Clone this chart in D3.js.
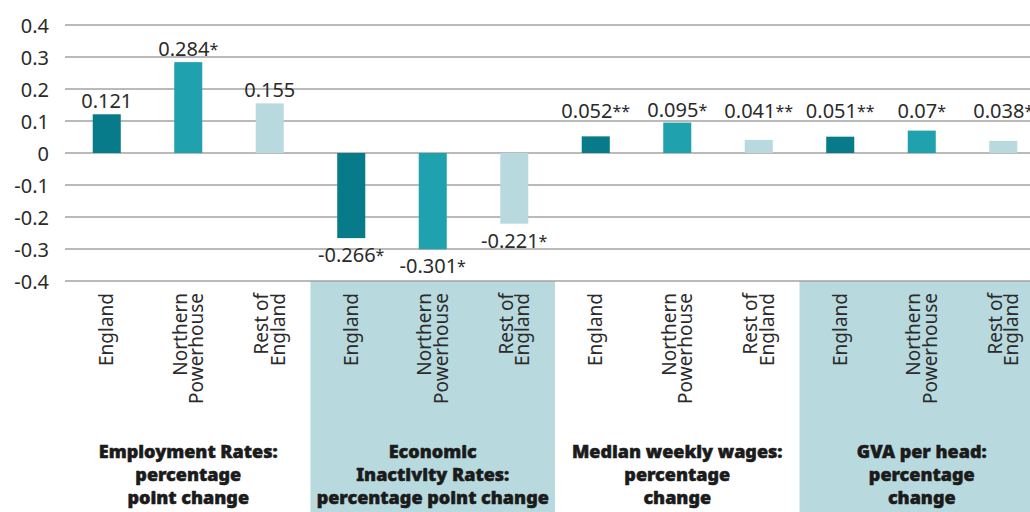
<!DOCTYPE html>
<html>
<head>
<meta charset="utf-8">
<script src="https://cdn.jsdelivr.net/npm/d3@7"></script>
<style>
  body { margin: 0; background: #fff; }
  svg { display: block; font-family: "Noto Sans", Lato, sans-serif; }
</style>
</head>
<body>
<div class="vizHolder"></div>
<script>
var width = 1030,
    height = 512;

// groups along the x axis
var groupTitles = [
  ["Employment Rates:", "percentage", "point change"],
  ["Economic", "Inactivity Rates:", "percentage point change"],
  ["Median weekly wages:", "percentage", "change"],
  ["GVA per head:", "percentage", "change"]
];

// areas inside each group
var areaLines = [["England"], ["Northern", "Powerhouse"], ["Rest of", "England"]];

// values per group, in area order
var employment = [0.121, 0.284, 0.155];
var inactivity = [-0.266, -0.301, -0.221];
var wages = [0.052, 0.095, 0.041];
var gva = [0.051, 0.07, 0.038];

// significance stars
var employmentStars = ["", "*", ""];
var inactivityStars = ["*", "*", "*"];
var wagesStars = ["**", "*", "**"];
var gvaStars = ["**", "*", "*"];

var yTicks = [-0.4, -0.3, -0.2, -0.1, 0, 0.1, 0.2, 0.3, 0.4];

var areaColors = ["#077b8a", "#20a2ae", "#b8dadf"];
var shade = "#b8dadf";

var allValues = [employment, inactivity, wages, gva];
var allStars = [employmentStars, inactivityStars, wagesStars, gvaStars];

var data = [];
allValues.forEach(function(vals, g){
  vals.forEach(function(v, a){
    data.push({ group: g, area: a, value: v, star: allStars[g][a], key: g + '-' + a });
  });
});

var svg = d3.select('.vizHolder')
            .append('svg')
            .attr('width', width)
            .attr('height', height);

var x0 = 66, x1 = 1044;

var yScale = d3.scaleLinear()
               .domain([-0.4, 0.4])
               .range([281, 25]);

var groupScale = d3.scaleBand()
                   .domain(d3.range(groupTitles.length))
                   .range([x0, x1]);

var xScale = d3.scaleBand()
               .domain(data.map(function(d){ return d.key; }))
               .range([x0, x1])
               .paddingInner(0.656)
               .paddingOuter(0.328);

// shaded panels under the axis for groups 2 and 4
svg.selectAll('.shade')
   .data([1, 3])
   .enter().append('rect')
   .attr('class', 'shade')
   .attr('x', function(g){ return groupScale(g); })
   .attr('y', yScale(-0.4))
   .attr('width', groupScale.bandwidth())
   .attr('height', height - yScale(-0.4))
   .attr('fill', shade);

//gridlines
svg.selectAll('.grid')
   .data(yTicks)
   .enter().append('line')
   .attr('class', 'grid')
   .attr('x1', x0 - 1)
   .attr('x2', width)
   .attr('y1', function(d){ return yScale(d); })
   .attr('y2', function(d){ return yScale(d); })
   .attr('stroke', '#a3a3a3')
   .attr('stroke-width', 1.5);

//Y axis labels
var yAxis = d3.axisLeft(yScale)
              .tickValues(yTicks)
              .tickSize(0)
              .tickPadding(0)
              .tickFormat(function(d){ return d === 0 ? '0' : d3.format('.1f')(d).replace('\u2212', '-'); });

var yAxisGroup = svg.append('g')
                    .attr('transform', 'translate(49, 0)')
                    .call(yAxis);
yAxisGroup.select('.domain').remove();
yAxisGroup.selectAll('text')
          .attr('font-size', 20)
          .attr('font-family', '"Noto Sans", Lato, sans-serif')
          .attr('fill', '#2b2b2b')
          .attr('dy', '0.36em');

//bars
svg.selectAll('.bar')
   .data(data)
   .enter().append('rect')
   .attr('class', 'bar')
   .attr('x', function(d){ return xScale(d.key); })
   .attr('width', xScale.bandwidth())
   .attr('y', function(d){ return yScale(Math.max(0, d.value)); })
   .attr('height', function(d){ return Math.abs(yScale(d.value) - yScale(0)); })
   .attr('fill', function(d){ return areaColors[d.area]; });

//value labels
var labels = svg.selectAll('.val')
   .data(data)
   .enter().append('text')
   .attr('class', 'val')
   .attr('x', function(d){ return xScale(d.key) + xScale.bandwidth() / 2; })
   .attr('y', function(d){
     if (d.value >= 0) return Math.min(yScale(d.value) - 6, yScale(0.11));
     return yScale(d.value) + 24;
   })
   .attr('text-anchor', 'middle')
   .attr('font-size', 20)
   .attr('fill', '#2b2b2b');

labels.append('tspan').text(function(d){ return d.value; });
labels.append('tspan')
      .attr('font-size', 16)
      .attr('dy', -1)
      .text(function(d){ return d.star; });

//area labels, rotated
var areaText = svg.selectAll('.area')
   .data(data)
   .enter().append('text')
   .attr('class', 'area')
   .attr('transform', function(d){
     var cx = xScale(d.key) + xScale.bandwidth() / 2;
     return 'translate(' + cx + ',' + (yScale(-0.4) + 12) + ') rotate(-90)';
   })
   .attr('text-anchor', 'end')
   .attr('font-size', 19)
   .attr('fill', '#2b2b2b');

areaText.each(function(d){
  var lines = areaLines[d.area];
  var t = d3.select(this);
  var lh = 16.5;
  lines.forEach(function(line, i){
    t.append('tspan')
     .attr('x', 0)
     .attr('y', (i - (lines.length - 1) / 2) * lh + 6.5)
     .text(line);
  });
});

//group titles
var titles = svg.selectAll('.gtitle')
   .data(groupTitles)
   .enter().append('text')
   .attr('class', 'gtitle')
   .attr('text-anchor', 'middle')
   .attr('font-size', 18)
   .attr('font-weight', 900)
   .attr('fill', '#1b1b1b')
   .attr('stroke', '#1b1b1b')
   .attr('stroke-width', 0.5);

titles.each(function(lines, g){
  var t = d3.select(this);
  var cx = groupScale(g) + groupScale.bandwidth() / 2;
  lines.forEach(function(line, i){
    t.append('tspan')
     .attr('x', cx)
     .attr('y', 458 + i * 23)
     .text(line);
  });
});
</script>
</body>
</html>
